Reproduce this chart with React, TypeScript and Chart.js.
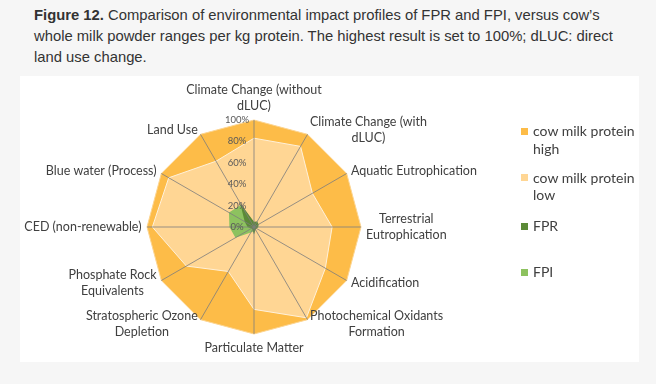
import React, { useEffect, useRef } from "react";
import { Chart, registerables } from "chart.js";

Chart.register(...registerables);

// ---- data ----
const categories: string[][] = [
  ["Climate Change (without", "dLUC)"],
  ["Climate Change (with", "dLUC)"],
  ["Aquatic Eutrophication"],
  ["Terrestrial", "Eutrophication"],
  ["Acidification"],
  ["Photochemical Oxidants", "Formation"],
  ["Particulate Matter"],
  ["Stratospheric Ozone", "Depletion"],
  ["Phosphate Rock", "Equivalents"],
  ["CED (non-renewable)"],
  ["Blue water (Process)"],
  ["Land Use"],
];
const cowHigh = [100, 100, 100, 100, 100, 100, 100, 100, 100, 100, 100, 100];
const cowLow = [83, 87, 63, 73, 77, 98, 77, 48, 73, 95, 92, 71];
const fpr = [5, 6, 5, 4, 3, 3, 7, 3, 3, 6, 10, 26];
const fpi = [4, 3, 3, 3, 3, 3, 4, 6, 20, 23, 27, 24];
const tickValues = [0, 20, 40, 60, 80, 100];
const seriesNames = ["cow milk protein high", "cow milk protein low", "FPR", "FPI"];
const legendLines: string[][] = [["cow milk protein", "high"], ["cow milk protein", "low"], ["FPR"], ["FPI"]];
const seriesColors = ["#FDBC48", "#FFD694", "#5B8A37", "#8DC25F"];
const titleLines = [
  "Comparison of environmental impact profiles of FPR and FPI, versus cow\u2019s",
  "whole milk powder ranges per kg protein. The highest result is set to 100%; dLUC: direct",
  "land use change.",
];

const LABEL_FONT = "12.5px Lato";

const overlayPlugin = {
  id: "overlay",
  afterDatasetsDraw(chart: any) {
    const scale = chart.scales.r;
    const ctx = chart.ctx as CanvasRenderingContext2D;
    const n = categories.length;
    ctx.save();
    // angle lines drawn over the fills
    ctx.strokeStyle = "rgba(125,125,125,0.8)";
    ctx.lineWidth = 1;
    for (let i = 0; i < n; i++) {
      const p = scale.getPointPosition(i, scale.drawingArea);
      ctx.beginPath();
      ctx.moveTo(scale.xCenter, scale.yCenter);
      ctx.lineTo(p.x, p.y);
      ctx.stroke();
    }
    // tick labels
    ctx.font = "9.5px Lato";
    ctx.fillStyle = "#595959";
    ctx.textAlign = "center";
    ctx.textBaseline = "middle";
    tickValues.forEach((v) => {
      const y = scale.yCenter - scale.getDistanceFromCenterForValue(v);
      ctx.fillText(v + "%", scale.xCenter - 17, y);
    });
    // point labels
    ctx.font = LABEL_FONT;
    ctx.fillStyle = "#404040";
    const lh = 16;
    for (let i = 0; i < n; i++) {
      const lines = categories[i];
      const v = scale.getPointPosition(i, scale.drawingArea);
      const th = (2 * Math.PI * i) / n;
      const s = Math.sin(th);
      const c = Math.cos(th);
      const w = Math.max(...lines.map((l) => ctx.measureText(l).width));
      const h = lines.length * lh;
      let cx: number;
      let cy: number;
      if (Math.abs(s) < 0.01) {
        cx = v.x;
        cy = c > 0 ? v.y - 6 - h / 2 : v.y + 6 + h / 2;
      } else {
        cx = s > 0 ? v.x + 5 * s + w / 2 : v.x + 5.5 * s - w / 2;
        cy = v.y - 5 * c;
      }
      lines.forEach((l, k) => {
        ctx.fillText(l, cx, cy + (k - (lines.length - 1) / 2) * lh);
      });
    }
    ctx.restore();
  },
};

export default function App() {
  const canvasRef = useRef<HTMLCanvasElement | null>(null);

  useEffect(() => {
    if (!canvasRef.current) return;
    const chart = new Chart(canvasRef.current, {
      type: "radar",
      data: {
        labels: categories,
        datasets: [
          {
            label: seriesNames[0],
            data: cowHigh,
            backgroundColor: seriesColors[0],
            borderColor: "#FCD592",
            borderWidth: 1,
            fill: true,
            pointRadius: 0,
            order: 4,
          },
          {
            label: seriesNames[1],
            data: cowLow,
            backgroundColor: seriesColors[1],
            borderColor: "#FFF1DA",
            borderWidth: 1,
            fill: true,
            pointRadius: 0,
            order: 3,
          },
          {
            label: seriesNames[2],
            data: fpr,
            backgroundColor: seriesColors[2],
            borderColor: "rgba(0,0,0,0)",
            borderWidth: 0,
            fill: true,
            pointRadius: 0,
            order: 1,
          },
          {
            label: seriesNames[3],
            data: fpi,
            backgroundColor: seriesColors[3],
            borderColor: "rgba(0,0,0,0)",
            borderWidth: 0,
            fill: true,
            pointRadius: 0,
            order: 2,
          },
        ],
      },
      options: {
        responsive: false,
        animation: false,
        devicePixelRatio: 1,
        layout: { padding: { left: 147, right: 295, top: 120, bottom: 50 } },
        elements: { line: { tension: 0 } },
        plugins: { legend: { display: false }, tooltip: { enabled: false } },
        scales: {
          r: {
            min: 0,
            max: 100,
            ticks: { display: false, stepSize: 20 },
            grid: { display: false },
            angleLines: { display: false },
            pointLabels: { display: false },
          },
        },
      },
      plugins: [overlayPlugin],
    });
    return () => chart.destroy();
  }, []);

  const legendCenters = [131, 177.5, 226, 272];

  return (
    <div
      style={{
        position: "fixed",
        left: 0,
        top: 0,
        width: 656,
        height: 384,
        background: "#f6f6f6",
        overflow: "hidden",
      }}
    >
      <div
        style={{
          position: "absolute",
          left: 34,
          top: 5,
          fontFamily: "'Liberation Sans', Arial, sans-serif",
          fontSize: 14.8,
          lineHeight: "21px",
          color: "#333",
          whiteSpace: "nowrap",
        }}
      >
        {titleLines.map((t, i) => (
          <div key={i}>
            {i === 0 ? <b>Figure 12. </b> : null}
            {t}
          </div>
        ))}
      </div>
      <div
        style={{
          position: "absolute",
          left: 20,
          top: 76,
          width: 619,
          height: 286,
          background: "#ffffff",
        }}
      />
      <canvas
        ref={canvasRef}
        width={656}
        height={384}
        style={{ position: "absolute", left: 0, top: 0, width: 656, height: 384 }}
      />
      {legendLines.map((lines, i) => (
        <div key={i}>
          <div
            style={{
              position: "absolute",
              left: 521,
              top: legendCenters[i] - 3.5,
              width: 7,
              height: 7,
              background: seriesColors[i],
            }}
          />
          <div
            style={{
              position: "absolute",
              left: 533,
              top: legendCenters[i] - 8.75,
              fontFamily: "Lato, sans-serif",
              fontSize: 14,
              lineHeight: "17.5px",
              color: "#404040",
              whiteSpace: "nowrap",
            }}
          >
            {lines.map((l, k) => (
              <div key={k}>{l}</div>
            ))}
          </div>
        </div>
      ))}
    </div>
  );
}
